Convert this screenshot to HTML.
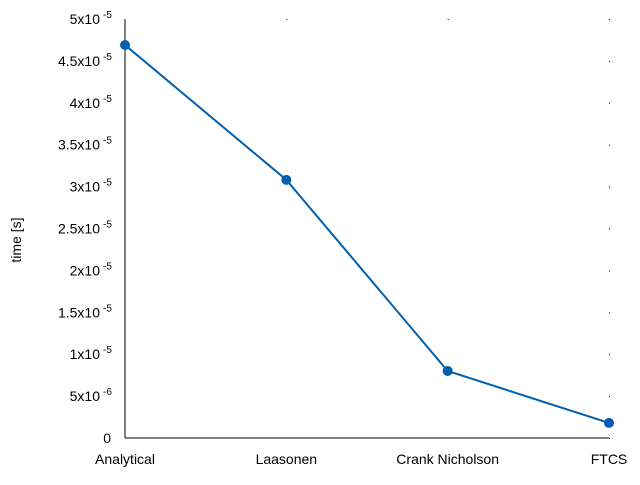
<!DOCTYPE html>
<html><head><meta charset="utf-8"><style>
body{margin:0;background:#fff;}
svg text{font-family:"Liberation Sans",sans-serif;font-size:14px;fill:#000;}
</style></head><body>
<svg width="640" height="480">
<g id="axes"></g><g id="marks"></g>
</svg>
<script>
const categories=["Analytical","Laasonen","Crank Nicholson","FTCS"];
const times=[4.69e-5,3.08e-5,0.80e-5,0.18e-5];
const tickMant=["0","5x10","1x10","1.5x10","2x10","2.5x10","3x10","3.5x10","4x10","4.5x10","5x10"];
const tickExp=["","-6","-5","-5","-5","-5","-5","-5","-5","-5","-5"];
const tickVals=[0,0.5e-5,1e-5,1.5e-5,2e-5,2.5e-5,3e-5,3.5e-5,4e-5,4.5e-5,5e-5];
const L=125,R=609,T=19,B=438;
const x=i=>L+(R-L)*i/(categories.length-1);
const y=v=>B-(B-T)*v/5e-5;
const NS="http://www.w3.org/2000/svg";
const ax=document.getElementById('axes'),mk=document.getElementById('marks');
function mkEl(t,a,p){const e=document.createElementNS(NS,t);for(const k in a)e.setAttribute(k,a[k]);p.appendChild(e);return e;}
let e=mkEl('line',{x1:L,y1:T,x2:L,y2:B,stroke:'#000'},ax);


e=mkEl('line',{x1:L,y1:B,x2:R,y2:B,stroke:'#000'},ax);


tickVals.forEach((v,i)=>{
  const t=mkEl('text',{x:L-14,y:y(v)+5,'text-anchor':'end'},ax);
  
  
  t.textContent=tickMant[i];
  if(tickExp[i]){
    t.setAttribute('x',L-25);
    const s=mkEl('text',{x:L-22,y:y(v)-1},ax);
    s.style.fontSize='10px';
    s.textContent=tickExp[i];
    
    
  }
  const d=mkEl('rect',{x:R,y:y(v),width:1,height:1,fill:'#000'},ax);
  
  
});
categories.forEach((c,i)=>{
  const t=mkEl('text',{x:x(i),y:464,'text-anchor':'middle'},ax);
  
  
  t.textContent=c;
  if(i>0&&i<categories.length-1){const d=mkEl('rect',{x:x(i),y:T,width:1,height:1,fill:'#000'},ax);
    
    }
});
const yt=mkEl('text',{x:21,y:240,'text-anchor':'middle',transform:'rotate(-90 21 240)'},ax);


yt.textContent='time [s]';
const pl=mkEl('polyline',{points:times.map((v,i)=>x(i)+','+y(v)).join(' '),fill:'none',stroke:'#0060ad','stroke-width':2},mk);


times.forEach((v,i)=>{const c=mkEl('circle',{cx:x(i),cy:y(v),r:5,fill:'#0060ad'},mk);
  
  });
</script>
</body></html>
